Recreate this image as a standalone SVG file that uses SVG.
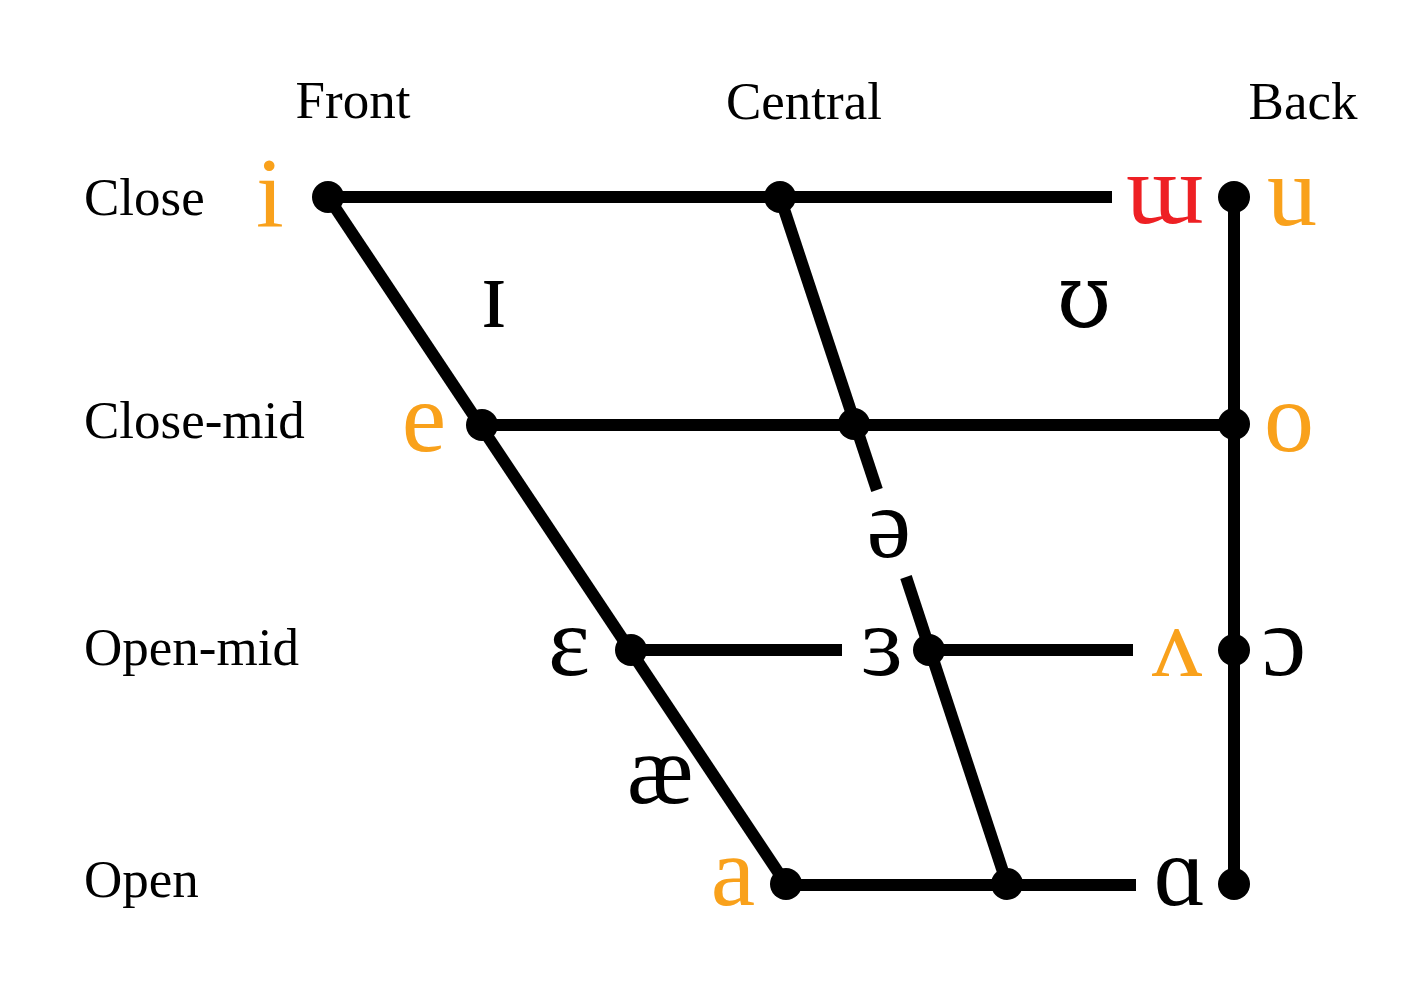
<svg xmlns="http://www.w3.org/2000/svg" width="1410" height="999" viewBox="0 0 1410 999">
<style>
.lbl{font-family:"Liberation Serif","DejaVu Serif",serif;font-size:53px;fill:#000}
.v{font-family:"Liberation Serif","DejaVu Serif",serif;font-size:100px;text-anchor:middle;fill:#000}
.dj{font-family:"DejaVu Serif",serif;font-size:88px}
.o{fill:#F9A11B}
.r{fill:#EE2024}
.ln{stroke:#000;stroke-width:12;fill:none;stroke-linecap:butt}
.dot{fill:#000}
</style>
<rect width="1410" height="999" fill="#fff"/>
<g id="headers">
<text class="lbl" x="353" y="118" text-anchor="middle">Front</text>
<text class="lbl" x="804" y="119" text-anchor="middle">Central</text>
<text class="lbl" x="1303" y="119" text-anchor="middle">Back</text>
<text class="lbl" x="84" y="215">Close</text>
<text class="lbl" x="84" y="438">Close-mid</text>
<text class="lbl" x="84" y="665">Open-mid</text>
<text class="lbl" x="84" y="897">Open</text>
</g>
<g id="connectors">
<line class="ln" x1="328" y1="197" x2="1112" y2="197"/>
<line class="ln" x1="1234" y1="197" x2="1234" y2="884"/>
<line class="ln" x1="328" y1="197" x2="786" y2="884"/>
<line class="ln" x1="780" y1="197" x2="877" y2="490"/>
<line class="ln" x1="906" y1="577" x2="1007" y2="884"/>
<line class="ln" x1="482" y1="425" x2="1234" y2="425"/>
<line class="ln" x1="631" y1="650" x2="842" y2="650"/>
<line class="ln" x1="929" y1="650" x2="1133" y2="650"/>
<line class="ln" x1="786" y1="885" x2="1136" y2="885"/>
</g>
<g id="dots">
<circle class="dot" cx="328" cy="197" r="16"/>
<circle class="dot" cx="780" cy="197" r="16"/>
<circle class="dot" cx="1234" cy="197" r="16"/>
<circle class="dot" cx="482" cy="425" r="16"/>
<circle class="dot" cx="854" cy="424" r="16"/>
<circle class="dot" cx="1234" cy="424" r="16"/>
<circle class="dot" cx="631" cy="650" r="16"/>
<circle class="dot" cx="929" cy="650" r="16"/>
<circle class="dot" cx="1234" cy="650" r="16"/>
<circle class="dot" cx="786" cy="884" r="16"/>
<circle class="dot" cx="1007" cy="884" r="16"/>
<circle class="dot" cx="1234" cy="884" r="16"/>
</g>
<g id="vowels">
<text id="v-i" class="v o" x="270" y="226">i</text>
<text id="v-ɯ" class="v r" x="1165" y="223">ɯ</text>
<text id="v-u" class="v o" x="1292" y="225">u</text>
<text id="v-ɪ" class="v" x="494" y="327">ɪ</text>
<text id="v-ʊ" class="v dj" x="1084" y="327">ʊ</text>
<text id="v-e" class="v o" x="424" y="451">e</text>
<text id="v-o" class="v o" x="1289" y="451">o</text>
<text id="v-ə" class="v" x="889" y="557">ə</text>
<text id="v-ɛ" class="v" x="569" y="675">ɛ</text>
<text id="v-ɜ" class="v" x="882" y="675">ɜ</text>
<text id="v-ʌ" class="v o" x="1177" y="676">ʌ</text>
<text id="v-ɔ" class="v" x="1284" y="675">ɔ</text>
<text id="v-æ" class="v" x="660" y="803">æ</text>
<text id="v-a" class="v o" x="733" y="905">a</text>
<text id="v-ɑ" class="v" x="1180" y="905">ɑ</text>
</g>
</svg>
